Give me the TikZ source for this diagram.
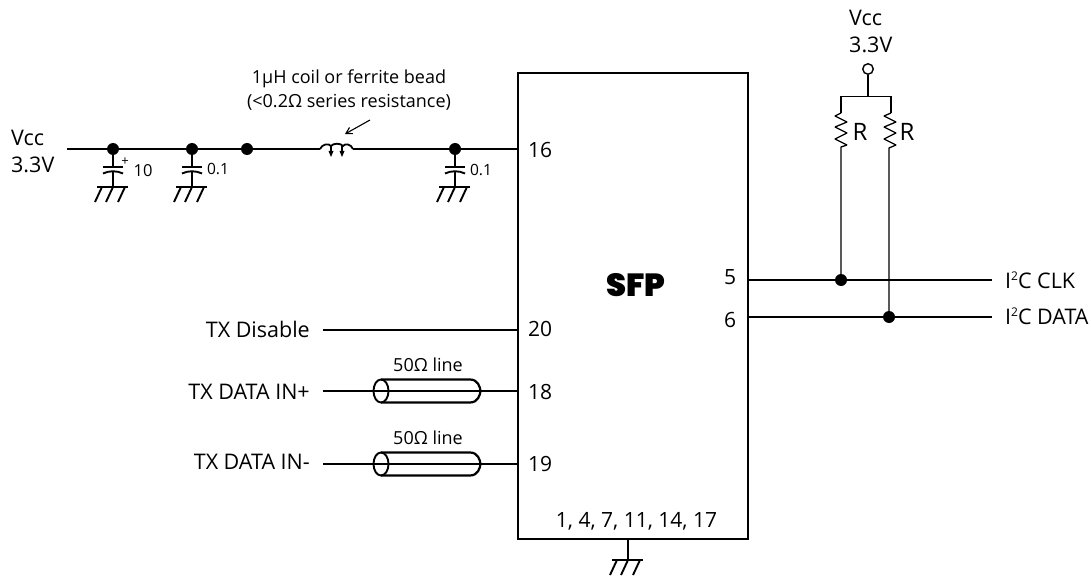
\documentclass[tikz,border=0pt]{standalone}
\usepackage{fontspec}
\setmainfont{Open Sans}
\newfontfamily\heavyfont{Poppins Black}
\usetikzlibrary{arrows.meta}
\newcommand{\supertwo}{\raisebox{0.38em}{\fontsize{12}{12}\selectfont 2}}
\tikzset{
  wire/.style={line width=1.9pt,line cap=butt},
  thin wire/.style={line width=1.3pt},
  dot/.style={circle,fill=black,draw=none,inner sep=0pt,minimum size=12pt},
  lbl/.style={inner sep=0pt,font=\fontsize{21.5}{27}\selectfont},
  small lbl/.style={inner sep=0pt,font=\fontsize{18}{24}\selectfont},
  pin/.style={inner sep=0pt,font=\fontsize{21}{24}\selectfont},
  val/.style={inner sep=0pt,font=\fontsize{15.5}{20}\selectfont},
  pic ground/.style={line width=1.9pt},
}
\begin{document}
\begin{tikzpicture}[x=1pt,y=-1pt]
\useasboundingbox (0,0) rectangle (1091,577);
% SFP box
\node[draw,line width=2.2pt,minimum width=230pt,minimum height=466pt,inner sep=0pt,anchor=north west] (sfp) at (517,72) {};
\node[inner sep=0pt,font=\heavyfont\fontsize{32}{34}\selectfont] (sfplabel) at (636,285) {SFP};
% left supply rail
\node[lbl,align=left,anchor=west] (vccl) at (11,151) {Vcc\\3.3V};
\coordinate (railstart) at (67,149);
\node[dot] (j1) at (113,149) {};
\node[dot] (j2) at (192,149) {};
\node[dot] (j3) at (247,149) {};
\node[dot] (j4) at (455,149) {};
\coordinate (coilL) at (320,149);
\coordinate (coilR) at (353,149);
\coordinate (pin16) at (517,149);
\draw[wire] (railstart) -- (j1) -- (j2) -- (j3) -- (coilL);
\draw[wire] (coilR) -- (j4) -- (pin16);
% coil
\draw[line width=1.8pt] (coilL) .. controls (322,144) and (329,143) .. (331,146)
  .. controls (333,143) and (341,143) .. (343,146)
  .. controls (345,143) and (351,144) .. (coilR);
\draw[line width=1.5pt] (331,146) -- (331,155);
\draw[line width=1.5pt] (342,146) -- (342,155);
\fill (328.5,151) -- (333.5,151) -- (331,157) -- cycle;
\fill (339.5,151) -- (344.5,151) -- (342,157) -- cycle;
\node[small lbl,align=center] (coiltext) at (349,90) {1µH coil or ferrite bead\\(<0.2Ω series resistance)};
\coordinate (coilarrow) at (370,120);
\coordinate (coilarrowend) at (345,134);
\draw[line width=1.1pt,-{Straight Barb[length=6pt,width=7pt]}] (coilarrow) -- (coilarrowend);
% capacitors
\foreach \x/\n in {113/a,192/b,455/c}{
  \draw[wire] (\x,149) -- (\x,166);
  \draw[pic ground] (\x-10,167) -- (\x+10,167);
  \draw[pic ground] (\x-10,173.5) .. controls (\x-4,170.5) and (\x+4,170.5) .. (\x+10,173.5);
  \draw[wire] (\x,171) -- (\x,187);
  \draw[pic ground] (\x-16,187) -- (\x+15,187);
  \foreach \d in {-11,0,12}{\draw[pic ground] (\x+\d,187) -- (\x+\d-7,202);}
}
\node[inner sep=0pt,font=\fontsize{13}{14}\selectfont] (plus) at (125,162) {+};
\node[val,font=\fontsize{16.5}{20}\selectfont] (c10) at (143,171) {10};
\node[val] (c01a) at (218,169) {0.1};
\node[val] (c01b) at (481,170) {0.1};
% left pins
\node[pin,anchor=west] (p16) at (528,150) {16};
\node[pin,anchor=west] (p20) at (528,329) {20};
\node[pin,anchor=west] (p18) at (528,392) {18};
\node[pin,anchor=west] (p19) at (528,464) {19};
\node[lbl,anchor=east] (txd) at (310,329) {TX Disable};
\node[lbl,anchor=east] (txp) at (310,392) {TX DATA IN+};
\node[lbl,anchor=east] (txm) at (310,462) {TX DATA IN-};
\coordinate (s20) at (323,330);
\coordinate (e20) at (517,330);
\coordinate (s18) at (323,391);
\coordinate (e18) at (517,391);
\coordinate (s19) at (323,464);
\coordinate (e19) at (517,464);
\draw[wire] (s20) -- (e20);
\draw[wire] (s18) -- (e18);
\draw[wire] (s19) -- (e19);
% cables
\foreach \y/\n in {391/a,464/b}{
  \draw[line width=2.2pt] (381,\y-11.5) -- (470,\y-11.5) .. controls (478,\y-11.5) and (480,\y-4) .. (480.5,\y)
     .. controls (480,\y+4) and (478,\y+11.5) .. (470,\y+11.5) -- (381,\y+11.5);
  \draw[line width=1.9pt] (381,\y) ellipse [x radius=7.5pt,y radius=11.5pt];
  \node[small lbl] (cable\n) at (428,\y-26) {50Ω line};
}
% bottom ground
\node[pin] (gndpins) at (636.5,521) {1, 4, 7, 11, 14, 17};
\coordinate (g0) at (628,538);
\coordinate (g1) at (628,560);
\draw[wire] (g0) -- (g1);
\draw[pic ground] (612,560) -- (643,560);
\foreach \d in {-11,0,12}{\draw[pic ground] (628+\d,560) -- (628+\d-7,575);}
% right pins
\node[pin] (p5) at (730,277) {5};
\node[pin] (p6) at (730,320) {6};
\coordinate (e5) at (992,280);
\coordinate (e6) at (992,317);
\node[dot] (jc) at (841,280) {};
\node[dot] (jd) at (889,317) {};
\draw[thin wire] (747,280) -- (jc) -- (e5);
\draw[wire] (747,317) -- (jd) -- (e6);
\node[lbl,anchor=west] (clk) at (1005,280) {I\supertwo C CLK};
\node[lbl,anchor=west] (dat) at (1005,316) {I\supertwo C DATA};
% pull-ups
\node[lbl,align=left,anchor=west] (vcct) at (849,31) {Vcc\\3.3V};
\node[circle,draw,line width=1.4pt,fill=white,inner sep=0pt,minimum size=10.5pt] (vo) at (868,69) {};
\coordinate (tee) at (868,97);
\draw[line width=2.8pt] (vo) -- (tee);
\draw[thin wire] (841,113) -- (841,96.5) -- (891,96.5) -- (891,113);
\draw[thin wire,line join=bevel] (841,113) -- (835,116) -- (847,122) -- (835,127) -- (847,133) -- (835,139) -- (847,145) -- (841,147) -- (jc);
\draw[thin wire,line join=bevel] (891,113) -- (884,116) -- (896,122) -- (884,127) -- (896,133) -- (884,139) -- (896,145) -- (889,148) -- (jd);
\node[pin,font=\fontsize{24}{26}\selectfont] (r1) at (860,132) {R};
\node[pin,font=\fontsize{24}{26}\selectfont] (r2) at (907,132) {R};
\end{tikzpicture}
\end{document}
